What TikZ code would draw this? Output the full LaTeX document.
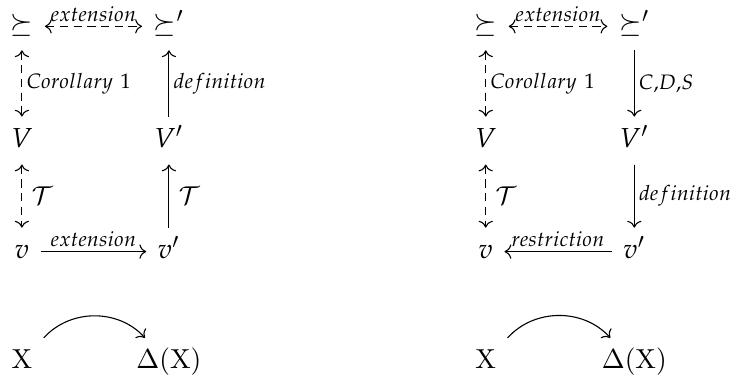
\documentclass[tikz,border=0pt]{standalone}
\usepackage{mathpazo}
\usetikzlibrary{arrows.meta}
\begin{document}
\begin{tikzpicture}[
        obj/.style={anchor=base, inner sep=4pt, text height=1.6ex, text depth=.5ex},
        lbl/.style={font=\fontsize{7.6}{9}\selectfont, inner sep=1.5pt},
        edge/.style={->, >={Computer Modern Rightarrow}},
        both/.style={<->, >={Computer Modern Rightarrow}, dash pattern=on 3pt off 2pt},
    ]
    \useasboundingbox (0,0) rectangle (9.41,-4.90);

    % Left diagram
    \node[obj] (p1) at (0.28,-0.42) {$\succeq$};
    \node[obj] (pp1) at (2.16,-0.42) {$\succeq'$};
    \node[obj] (V1) at (0.28,-1.88) {$V$};
    \node[obj] (Vp1) at (2.16,-1.88) {$V'$};
    \node[obj] (v1) at (0.28,-3.30) {$v$};
    \node[obj] (vp1) at (2.16,-3.30) {$v'$};

    % Right diagram
    \node[obj] (p2) at (6.21,-0.42) {$\succeq$};
    \node[obj] (pp2) at (8.11,-0.42) {$\succeq'$};
    \node[obj] (V2) at (6.21,-1.88) {$V$};
    \node[obj] (Vp2) at (8.11,-1.88) {$V'$};
    \node[obj] (v2) at (6.21,-3.30) {$v$};
    \node[obj] (vp2) at (8.11,-3.30) {$v'$};

    % Bottom maps
    \node[obj] (x1) at (0.28,-4.71) {X};
    \node[obj] (dx1) at (2.16,-4.71) {Δ(X)};
    \node[obj] (x2) at (6.21,-4.71) {X};
    \node[obj] (dx2) at (8.11,-4.71) {Δ(X)};

    % Arrows left
    \draw[both] (p1) -- node[lbl, above] {$extension$} (pp1);
    \draw[both] (p1) -- node[lbl, right] {$Corollary\ 1$} (V1);
    \draw[edge] (Vp1) -- node[lbl, right] {$definition$} (pp1);
    \draw[both] (V1) -- node[right, font=\small] {$\mathcal{T}$} (v1);
    \draw[edge] (vp1) -- node[right, font=\small] {$\mathcal{T}$} (Vp1);
    \draw[edge] (v1) -- node[lbl, above] {$extension$} (vp1);
    \draw[edge] (x1.north east) to[bend left=48] (dx1.135);

    % Arrows right
    \draw[both] (p2) -- node[lbl, above] {$extension$} (pp2);
    \draw[both] (p2) -- node[lbl, right] {$Corollary\ 1$} (V2);
    \draw[edge] (pp2) -- node[lbl, right] {$C{,}D{,}S$} (Vp2);
    \draw[both] (V2) -- node[right, font=\small] {$\mathcal{T}$} (v2);
    \draw[edge] (Vp2) -- node[lbl, right] {$definition$} (vp2);
    \draw[edge] (vp2) -- node[lbl, above] {$restriction$} (v2);
    \draw[edge] (x2.north east) to[bend left=48] (dx2.135);

\end{tikzpicture}
\end{document}
